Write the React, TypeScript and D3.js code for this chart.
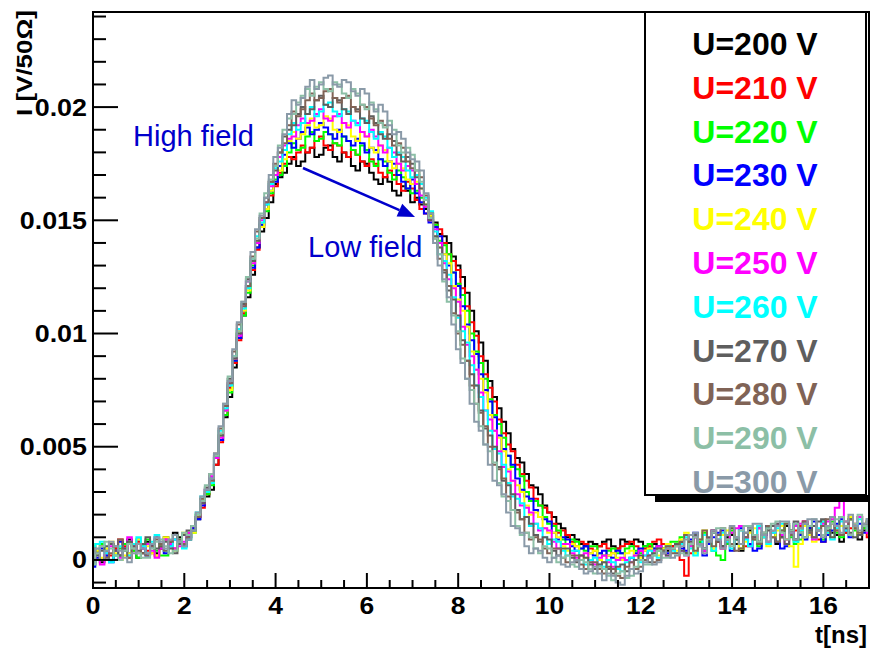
import { useEffect, useRef } from 'react';
import * as d3 from 'd3';

// pulse shapes sampled every 0.1 ns from 0 to 17 ns, values in 1e-4 V (into 50 Ohm)
const T_STEP = 0.1;

const u200 = [6, 4, -1, 2, 7, 5, 2, 4, 9, 6, 1, 3, 8, 6, 3, 5, 10, 8, 12, 10, 6, 9, 13, 18, 25, 28, 31, 42, 53, 63, 72, 85, 98, 108, 116, 126, 138, 145, 151, 158, 166, 169, 171, 175, 178, 174, 176, 180, 182, 178, 179, 182, 183, 178, 176, 180, 178, 174, 172, 176, 175, 171, 168, 166, 169, 167, 163, 161, 165, 163, 158, 160, 157, 155, 152, 149, 144, 143, 140, 134, 130, 125, 118, 110, 101, 96, 88, 79, 72, 67, 61, 56, 49, 45, 43, 38, 33, 32, 29, 24, 21, 19, 16, 14, 10, 11, 9, 7, 6, 8, 7, 6, 8, 9, 6, 5, 9, 8, 7, 9, 8, 6, 5, 7, 6, 5, 4, 6, 7, 8, 3, 7, 10, 8, 5, 9, 12, 8, 6, 10, 11, 7, 4, 10, 13, 11, 8, 10, 14, 12, 7, 10, 15, 13, 9, 12, 16, 14, 10, 13, 17, 15, 12, 11, 8, 12, 18, 14, 9, 13, 15];
const u210 = [0, 3, 6, 4, 2, 5, 9, 6, 1, 4, 8, 6, 4, 3, 2, 5, 9, 8, 5, 7, 11, 12, 14, 19, 23, 29, 34, 42, 52, 64, 76, 87, 97, 109, 120, 128, 137, 147, 155, 161, 165, 171, 175, 178, 177, 180, 183, 180, 182, 185, 187, 183, 181, 184, 183, 180, 178, 181, 179, 176, 174, 177, 175, 171, 169, 172, 170, 166, 163, 167, 164, 159, 155, 153, 150, 148, 146, 140, 135, 132, 128, 120, 112, 105, 99, 90, 82, 76, 70, 62, 56, 51, 48, 42, 38, 35, 32, 27, 24, 23, 21, 16, 12, 13, 11, 8, 6, 8, 7, 5, 4, 6, 7, 5, 3, 5, 6, 7, 8, 6, 4, 5, 6, 8, 9, 7, 5, 6, 6, 0, -7, 3, 11, 7, 4, 9, 13, 8, 5, 9, 12, 10, 7, 6, 6, 10, 14, 11, 8, 12, 15, 11, 9, 12, 13, 15, 17, 13, 10, 9, 8, 12, 16, 13, 11, 12, 14, 16, 19, 14, 10];
const u220 = [-2, 3, 7, 4, 0, 2, 5, 7, 8, 4, 1, 6, 9, 7, 4, 2, 2, 7, 11, 9, 7, 10, 12, 20, 26, 29, 33, 45, 55, 64, 74, 88, 100, 108, 118, 130, 140, 148, 154, 162, 168, 170, 174, 180, 184, 181, 182, 187, 189, 185, 186, 189, 188, 184, 183, 187, 185, 181, 179, 183, 181, 176, 174, 177, 176, 171, 168, 172, 169, 164, 162, 163, 160, 156, 153, 148, 141, 139, 135, 127, 122, 117, 110, 100, 92, 87, 80, 71, 64, 60, 54, 46, 41, 40, 37, 30, 26, 26, 24, 19, 16, 15, 13, 9, 7, 9, 8, 5, 4, 6, 6, 3, 2, 4, 5, 3, 3, 5, 6, 4, 3, 6, 7, 5, 4, 5, 6, 8, 8, 10, 11, 6, 3, 8, 12, 7, 4, 2, 0, 7, 13, 9, 5, 10, 14, 9, 6, 11, 15, 12, 8, 13, 16, 10, 7, 9, 10, 13, 15, 11, 9, 14, 17, 12, 10, 15, 18, 13, 11, 14, 17];
const u230 = [-3, 1, 5, 2, -1, 4, 8, 5, 3, 7, 9, 5, 2, 6, 10, 6, 3, 6, 9, 8, 6, 10, 14, 18, 24, 31, 36, 45, 53, 66, 77, 88, 98, 110, 121, 129, 138, 148, 157, 163, 167, 174, 179, 184, 182, 186, 189, 191, 188, 190, 193, 191, 188, 186, 190, 187, 185, 183, 186, 184, 180, 182, 181, 177, 174, 176, 175, 170, 167, 164, 168, 162, 158, 153, 149, 147, 143, 135, 130, 127, 121, 112, 104, 97, 91, 82, 75, 70, 63, 55, 49, 46, 42, 36, 31, 28, 27, 22, 19, 18, 17, 12, 9, 10, 9, 6, 4, 5, 6, 3, 2, 3, 4, 2, 1, 4, 3, 0, 1, 3, 5, 4, 2, 5, 6, 4, 3, 5, 7, 5, 4, 9, 12, 6, 2, 7, 10, 12, 13, 8, 4, 9, 14, 10, 7, 4, 5, 11, 15, 10, 8, 5, 6, 12, 16, 11, 9, 14, 17, 11, 8, 11, 13, 16, 18, 13, 10, 14, 16, 12, 12];
const u240 = [7, 4, 1, 5, 8, 3, 0, 2, 3, 6, 9, 7, 6, 3, 2, 6, 10, 7, 4, 8, 12, 11, 12, 20, 27, 30, 34, 45, 55, 66, 75, 89, 101, 110, 119, 131, 141, 147, 155, 163, 170, 172, 177, 185, 189, 186, 188, 192, 195, 191, 192, 196, 195, 190, 189, 193, 192, 187, 185, 189, 187, 182, 180, 183, 181, 176, 173, 175, 173, 168, 166, 167, 164, 157, 152, 143, 138, 135, 131, 121, 115, 110, 103, 92, 84, 80, 74, 64, 57, 54, 48, 40, 35, 33, 30, 24, 20, 21, 19, 14, 12, 12, 10, 6, 4, 7, 6, 2, 1, 3, 4, 0, -1, 2, 3, 1, 0, 3, 4, 2, 1, 4, 5, 3, 2, 5, 7, 5, 4, 9, 12, 7, 3, 9, 13, 8, 5, 9, 11, 13, 14, 9, 5, 8, 12, 14, 15, 10, 6, 10, 13, 15, 16, 6, -3, 7, 15, 11, 8, 13, 17, 12, 10, 13, 15, 17, 19, 14, 11, 15, 17];
const u250 = [2, 0, -2, 3, 6, 4, 1, 5, 10, 6, 3, 5, 7, 4, 1, 5, 9, 7, 5, 6, 8, 12, 15, 19, 25, 31, 37, 45, 54, 66, 78, 89, 99, 112, 123, 131, 140, 150, 158, 165, 170, 178, 183, 186, 187, 192, 195, 193, 194, 197, 199, 195, 194, 196, 197, 193, 191, 194, 193, 189, 187, 190, 187, 183, 180, 182, 180, 175, 172, 174, 172, 166, 161, 156, 150, 146, 140, 131, 124, 120, 114, 103, 95, 90, 84, 74, 66, 62, 57, 48, 41, 39, 35, 29, 24, 23, 21, 16, 13, 14, 13, 8, 5, 7, 7, 3, 1, 2, 3, 0, -2, 1, 2, -1, -3, 0, 1, 0, -1, 2, 4, 2, 1, 4, 6, 3, 2, 5, 7, 4, 2, 6, 10, 7, 4, 9, 13, 9, 5, 9, 12, 14, 15, 10, 6, 10, 14, 11, 8, 12, 16, 11, 7, 12, 15, 16, 17, 12, 9, 13, 16, 17, 18, 23, 26, 17, 11, 15, 19, 15, 12];
const u260 = [4, 7, 8, 3, -1, 2, 6, 4, 2, 7, 10, 6, 3, 8, 11, 7, 4, 6, 9, 7, 5, 9, 13, 21, 28, 30, 34, 46, 57, 67, 77, 90, 102, 111, 120, 133, 143, 149, 157, 166, 173, 176, 181, 188, 193, 190, 193, 197, 200, 196, 198, 201, 202, 198, 196, 199, 198, 194, 192, 195, 194, 189, 186, 189, 187, 182, 178, 180, 178, 172, 169, 170, 166, 160, 154, 145, 135, 132, 126, 116, 107, 101, 96, 86, 77, 72, 66, 57, 49, 47, 42, 34, 28, 27, 25, 19, 15, 16, 14, 10, 7, 9, 8, 4, 2, 4, 4, 0, -2, 0, 1, -2, -3, 0, -1, -4, -5, -1, 1, 0, -1, 2, 4, 2, 1, 4, 6, 4, 3, 7, 10, 5, 2, 7, 11, 8, 4, 9, 12, 8, 5, 9, 13, 9, 6, 11, 15, 10, 7, 12, 14, 16, 16, 11, 8, 13, 16, 12, 10, 14, 17, 12, 9, 14, 17, 13, 11, 15, 18, 15, 13];
const u270 = [-1, 2, 4, 6, 7, 4, 2, 5, 8, 6, 4, 7, 10, 7, 5, 6, 8, 5, 3, 7, 11, 13, 15, 19, 25, 32, 38, 46, 55, 68, 80, 89, 100, 113, 124, 132, 141, 151, 160, 167, 172, 180, 187, 190, 192, 197, 200, 197, 199, 203, 205, 201, 200, 204, 203, 199, 197, 200, 199, 195, 193, 196, 193, 188, 186, 188, 185, 179, 176, 178, 175, 169, 164, 157, 150, 143, 138, 127, 119, 115, 108, 97, 88, 82, 77, 66, 58, 55, 50, 41, 35, 33, 29, 22, 18, 19, 16, 11, 8, 10, 9, 4, 2, 5, 5, 1, -1, 2, 1, -2, -4, -2, -1, -4, -6, -3, -2, -5, -4, 0, 2, 0, -1, 3, 5, 3, 2, 5, 7, 4, 3, 8, 11, 7, 5, 10, 13, 8, 6, 11, 14, 9, 7, 12, 15, 10, 8, 12, 13, 15, 16, 10, 7, 13, 17, 12, 10, 13, 15, 17, 18, 13, 10, 15, 19, 14, 12, 10, 11, 15, 18];
const u280 = [5, 3, 0, 1, 3, 6, 9, 4, 1, 5, 7, 3, 2, 6, 9, 7, 4, 8, 11, 9, 7, 10, 13, 19, 27, 31, 35, 47, 58, 68, 78, 92, 104, 112, 121, 134, 145, 151, 158, 167, 175, 180, 184, 192, 198, 196, 199, 203, 206, 203, 204, 207, 208, 204, 202, 204, 205, 200, 198, 201, 200, 195, 192, 194, 192, 186, 183, 184, 182, 176, 173, 172, 169, 161, 153, 142, 133, 128, 121, 109, 100, 95, 88, 77, 69, 65, 59, 50, 42, 40, 36, 28, 22, 21, 18, 12, 9, 10, 9, 5, 3, 5, 5, 1, -1, 2, 2, -2, -4, -1, -1, -4, -6, -3, -4, -7, -8, -3, -1, -4, -3, 0, 2, -1, 0, 4, 6, 3, 3, 8, 11, 7, 4, 9, 13, 8, 6, 11, 14, 9, 7, 4, 5, 10, 14, 9, 7, 12, 15, 10, 8, 13, 16, 11, 9, 14, 17, 12, 10, 13, 15, 18, 19, 13, 11, 15, 18, 14, 12, 16, 17];
const u290 = [-2, 3, 6, 8, 5, 2, 0, 4, 7, 5, 3, 1, 1, 5, 8, 9, 6, 3, 4, 8, 12, 11, 15, 20, 26, 33, 38, 46, 56, 69, 81, 90, 101, 114, 125, 133, 142, 153, 162, 168, 174, 183, 190, 195, 197, 202, 205, 208, 205, 209, 211, 208, 207, 211, 210, 206, 204, 208, 206, 201, 199, 202, 199, 193, 191, 194, 190, 183, 180, 182, 179, 172, 167, 159, 151, 142, 135, 123, 114, 108, 101, 89, 80, 75, 69, 59, 51, 48, 43, 34, 28, 26, 22, 15, 11, 12, 10, 5, 3, 6, 5, 1, -1, 1, 2, -2, -3, 0, -1, -4, -6, -3, -4, -7, -9, -6, -5, -8, -7, -3, 0, -2, -2, 2, 4, 1, 1, 5, 6, 3, 2, 7, 10, 6, 5, 9, 12, 14, 14, 9, 6, 10, 13, 15, 15, 11, 8, 12, 14, 16, 17, 12, 9, 13, 16, 12, 10, 15, 18, 13, 11, 14, 16, 18, 19, 15, 11, 16, 20, 15, 13];
const u300 = [3, 5, 0, 4, 8, 6, 4, 1, -1, 3, 7, 5, 3, 7, 10, 8, 5, 9, 11, 8, 6, 9, 13, 21, 28, 31, 36, 47, 59, 69, 79, 93, 105, 114, 123, 136, 146, 152, 160, 170, 178, 182, 188, 197, 203, 201, 204, 209, 212, 208, 210, 213, 214, 210, 209, 212, 211, 207, 205, 208, 206, 201, 198, 201, 198, 192, 188, 189, 186, 180, 177, 176, 172, 162, 153, 140, 130, 124, 116, 104, 93, 87, 80, 69, 61, 57, 51, 42, 35, 33, 29, 21, 15, 14, 12, 6, 3, 5, 4, 1, -1, 1, 2, -2, -3, -1, 0, -4, -6, -5, -3, -6, -9, -6, -7, -10, -11, -7, -4, -6, -5, -1, 1, -2, -1, 3, 5, 1, 2, 6, 9, 11, 12, 7, 3, 8, 13, 9, 5, 11, 15, 10, 7, 12, 14, 16, 16, 11, 8, 13, 15, 17, 17, 12, 9, 14, 16, 18, 18, 13, 10, 15, 19, 15, 12, 17, 20, 15, 13, 16, 18];

const voltages = [200, 210, 220, 230, 240, 250, 260, 270, 280, 290, 300];
const pulses = [u200, u210, u220, u230, u240, u250, u260, u270, u280, u290, u300];
const colors = ['#000000', '#ff0000', '#00ff00', '#0000ff', '#ffff00', '#ff00ff', '#00ffff', '#5e5e5e', '#806356', '#8cbfa6', '#8a9aa8'];

const yTicks = [0, 0.005, 0.01, 0.015, 0.02];
const yTickLabels = ['0', '0.005', '0.01', '0.015', '0.02'];
const xTicks = [0, 2, 4, 6, 8, 10, 12, 14, 16];

const FONT = '"Liberation Sans", Arial, Helvetica, sans-serif';
const BLUE = '#0000cc';

export default function App() {
  const svgRef = useRef<SVGSVGElement>(null);

  useEffect(() => {
    const svg = d3.select(svgRef.current);
    svg.selectAll('*').remove();

    const left = 93, right = 869, top = 12, bottom = 588;

    const x = d3.scaleLinear().domain([0, 17]).range([left, right]);
    const y = d3.scaleLinear().domain([-0.00124, 0.0242]).range([bottom, top]);

    svg.append('rect').attr('width', 870).attr('height', 648).attr('fill', '#fff');

    svg.append('clipPath').attr('id', 'plotclip')
      .append('rect')
      .attr('x', left).attr('y', top)
      .attr('width', right - left).attr('height', bottom - top);

    // histogram-style steps, one per bias voltage
    const line = d3.line<number>()
      .x((d, i) => x(i * T_STEP))
      .y(d => y(d * 1e-4))
      .curve(d3.curveStep);

    const g = svg.append('g').attr('clip-path', 'url(#plotclip)');
    pulses.forEach((p, i) => {
      g.append('path')
        .attr('d', line(p))
        .attr('fill', 'none')
        .attr('stroke', colors[i])
        .attr('stroke-width', 2);
    });

    // frame
    svg.append('rect')
      .attr('x', left).attr('y', top)
      .attr('width', right - left).attr('height', bottom - top)
      .attr('fill', 'none').attr('stroke', '#000').attr('stroke-width', 2);

    // y axis ticks (inward)
    const yMinor = d3.range(-1, 25).map(v => v * 0.001);
    svg.append('g').selectAll('line').data(yMinor).enter().append('line')
      .attr('x1', left).attr('x2', d => left + (yTicks.some(t => Math.abs(t - d) < 1e-9) ? 25 : 13))
      .attr('y1', d => y(d)).attr('y2', d => y(d))
      .attr('stroke', '#000').attr('stroke-width', 2);

    yTicks.forEach((t, i) => {
      svg.append('text')
        .attr('transform', `translate(87,${y(t) + 8.5}) scale(1.12,1)`)
        .attr('text-anchor', 'end')
        .style('font-family', FONT).style('font-weight', 'bold').style('font-size', '24px')
        .text(yTickLabels[i]);
    });

    // x axis ticks (inward)
    const xMinor = d3.range(0, 35).map(v => v * 0.5);
    svg.append('g').selectAll('line').data(xMinor).enter().append('line')
      .attr('x1', d => x(d)).attr('x2', d => x(d))
      .attr('y1', bottom).attr('y2', d => bottom - (d % 2 === 0 ? 15 : 8))
      .attr('stroke', '#000').attr('stroke-width', 2);

    xTicks.forEach(t => {
      svg.append('text')
        .attr('transform', `translate(${x(t)},614) scale(1.15,1)`)
        .attr('text-anchor', 'middle')
        .style('font-family', FONT).style('font-weight', 'bold').style('font-size', '23px')
        .text(String(t));
    });

    // axis titles
    svg.append('text')
      .attr('x', 867).attr('y', 643)
      .attr('text-anchor', 'end')
      .style('font-family', FONT).style('font-weight', 'bold').style('font-size', '24px')
      .text('t[ns]');

    svg.append('text')
      .attr('transform', 'translate(32,10) rotate(-90)')
      .attr('text-anchor', 'end')
      .attr('textLength', 106).attr('lengthAdjust', 'spacingAndGlyphs')
      .style('font-family', FONT).style('font-weight', 'bold').style('font-size', '22px')
      .text('I [V/50\u03A9]');

    // legend with shadow
    const lx = 645, ly = 12, lw = 221, lh = 483;
    svg.append('rect').attr('x', lx + 10).attr('y', ly + lh).attr('width', 870 - lx - 10).attr('height', 7).attr('fill', '#000');
    svg.append('rect').attr('x', lx).attr('y', ly).attr('width', lw).attr('height', lh)
      .attr('fill', '#fff').attr('stroke', '#000').attr('stroke-width', 2);

    voltages.forEach((v, i) => {
      svg.append('text')
        .attr('x', 755).attr('y', 55 + i * 43.8)
        .attr('text-anchor', 'middle')
        .attr('fill', colors[i])
        .style('font-family', FONT).style('font-weight', 'bold').style('font-size', '32px')
        .text(`U=${v} V`);
    });

    // annotations
    svg.append('text')
      .attr('x', 133).attr('y', 146)
      .attr('fill', BLUE)
      .style('font-family', FONT).style('font-size', '29px')
      .text('High field');

    svg.append('text')
      .attr('x', 308).attr('y', 257)
      .attr('fill', BLUE)
      .style('font-family', FONT).style('font-size', '29px')
      .text('Low field');

    const ax1 = 303, ay1 = 168, ax2 = 415, ay2 = 217;
    const ang = Math.atan2(ay2 - ay1, ax2 - ax1);
    const hl = 17, hw = 7;
    const bx = ax2 - hl * Math.cos(ang), by = ay2 - hl * Math.sin(ang);
    svg.append('line')
      .attr('x1', ax1).attr('y1', ay1).attr('x2', bx).attr('y2', by)
      .attr('stroke', BLUE).attr('stroke-width', 2.5);
    svg.append('path')
      .attr('d', `M${ax2},${ay2}L${bx + hw * Math.sin(ang)},${by - hw * Math.cos(ang)}L${bx - hw * Math.sin(ang)},${by + hw * Math.cos(ang)}Z`)
      .attr('fill', BLUE);
  }, []);

  return (
    <svg
      ref={svgRef}
      width={870}
      height={648}
      style={{ position: 'absolute', left: 0, top: 0, display: 'block' }}
    />
  );
}
